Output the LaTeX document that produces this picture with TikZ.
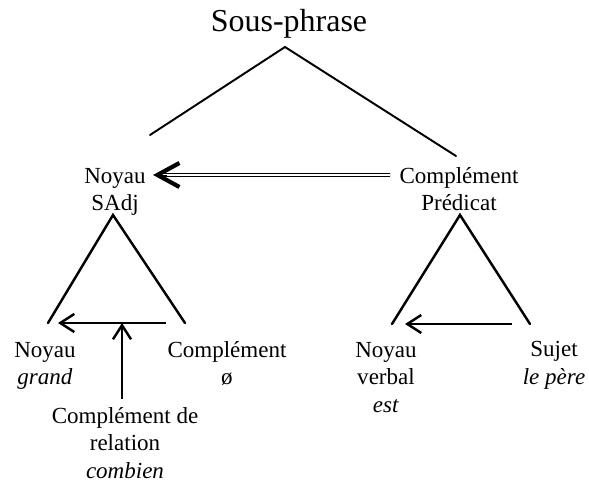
\documentclass[tikz,border=0pt]{standalone}
\usepackage{fontspec}
\setmainfont{Liberation Serif}
\usetikzlibrary{arrows.meta}

\tikzset{
  txt/.style={anchor=north, inner sep=0pt, align=center,
    font=\fontsize{13.1}{15.6}\selectfont},
  branch/.style={line width=1.1pt, line cap=round},
  subbranch/.style={line width=1.4pt, line cap=round},
  link/.style={line width=1.4pt, -{Straight Barb[length=0.28cm, width=0.36cm, line width=1.4pt]}},
  predlink/.style={double, line width=0.65pt, double distance=0.9pt},
  predhead/.style={-{Straight Barb[length=0.44cm, width=0.48cm, line width=2.4pt]}},
}

\begin{document}
\begin{tikzpicture}
\useasboundingbox (0,0) rectangle (11.78,-9.68);

% labels
\node[txt, font=\fontsize{18.2}{21}\selectfont] (title) at (5.78,-0.18) {Sous-phrase};
\node[txt] (noyauSAdj) at (2.30,-3.36) {Noyau\\SAdj};
\node[txt] (complPred) at (9.18,-3.34) {Complément\\Prédicat};
\node[txt] (noyauGrand) at (0.90,-6.84) {Noyau\\\textit{grand}};
\node[txt] (complVide) at (4.54,-6.82) {Complément\\ø};
\node[txt] (complRel) at (2.50,-8.14) {Complément de\\relation\\\textit{combien}};
\node[txt] (noyauVerbal) at (7.72,-6.84) {Noyau\\verbal\\\textit{est}};
\node[txt] (sujet) at (11.08,-6.82) {Sujet\\\textit{le père}};

% tree points
\coordinate (topApex) at (5.70,-0.94);
\coordinate (topFootL) at (3.00,-2.70);
\coordinate (topFootR) at (9.12,-3.12);
\coordinate (lftApex) at (2.26,-4.30);
\coordinate (lftFootL) at (0.96,-6.46);
\coordinate (lftFootR) at (3.70,-6.46);
\coordinate (rgtApex) at (9.20,-4.30);
\coordinate (rgtFootL) at (7.84,-6.48);
\coordinate (rgtFootR) at (10.60,-6.48);

\draw[branch] (topFootL) -- (topApex) -- (topFootR);
\draw[subbranch] (lftFootL) -- (lftApex) -- (lftFootR);
\draw[subbranch] (rgtFootL) -- (rgtApex) -- (rgtFootR);

% arrows
\draw[predlink, shorten >=0.2cm] ([shift={(-0.18,-0.16)}]complPred.north west)
  -- ([shift={(0.14,-0.14)}]noyauSAdj.north east);
\draw[predhead] ([shift={(0.42,-0.14)}]noyauSAdj.north east)
  -- ([shift={(0.14,-0.14)}]noyauSAdj.north east);
\draw[link] ([xshift=-0.38cm]lftFootR) -- ([xshift=0.20cm]lftFootL);
\draw[link] ([shift={(-0.06,0.16)}]complRel.north) -- ([xshift=-0.06cm]complRel.north |- lftFootL);
\draw[link] ([xshift=-0.36cm]rgtFootR) -- ([xshift=0.26cm]rgtFootL);
\end{tikzpicture}
\end{document}
